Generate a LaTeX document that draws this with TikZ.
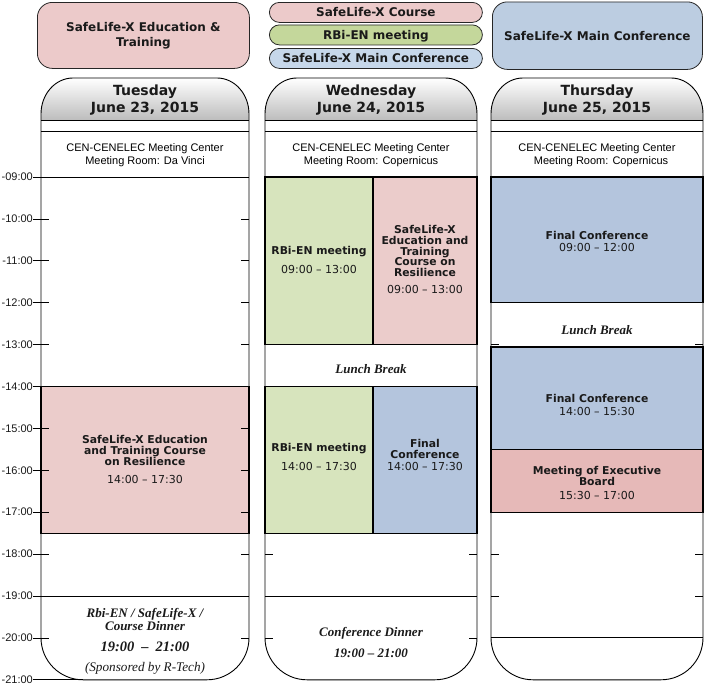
\documentclass[tikz,border=0pt]{standalone}
\usepackage{fontspec}
\setmainfont{DejaVu Sans}
\newfontfamily\arialfont{Liberation Sans}
\newfontfamily\timesfont{Liberation Serif}
\definecolor{legpink}{HTML}{ECCACA}
\definecolor{leggreen}{HTML}{C4D79B}
\definecolor{legblue}{HTML}{C6D7EA}
\definecolor{bigblue}{HTML}{BCCDE1}
\definecolor{evpink}{HTML}{EBCCCB}
\definecolor{evgreen}{HTML}{D7E4BD}
\definecolor{evblue}{HTML}{B4C5DD}
\definecolor{execpink}{HTML}{E6B9B8}
\definecolor{ink}{HTML}{1A1A1A}
\newcommand\mycolhead[2]{%
  \shade[top color=white, bottom color=black!26] ({#1},120) -- ({#1},114) .. controls ({#1},94.1) and ({#1+14.3},78) .. ({#1+32},78) -- ({#2-32},78) .. controls ({#2-14.3},78) and ({#2},94.1) .. ({#2},114) -- ({#2},120) -- cycle;}
\newcommand\mycolout[2]{%
  \draw[outl] ({#1},114) .. controls ({#1},94.1) and ({#1+14.3},78) .. ({#1+32},78) -- ({#2-32},78) .. controls ({#2-14.3},78) and ({#2},94.1) .. ({#2},114) -- ({#2},637.8) .. controls ({#2},661) and ({#2-18.8},679.8) .. ({#2-42},679.8) -- ({#1+42},679.8) .. controls ({#1+18.8},679.8) and ({#1},661) .. ({#1},637.8) -- cycle;}
\newcommand\myticks[3]{%
  \foreach \h in {#3} {\pgfmathsetmacro\yy{177+(\h-9)*41.9}
    \draw[tk] ({#1},\yy) -- ({#1+8},\yy); \draw[tk] ({#2-8},\yy) -- ({#2},\yy);}}
\begin{document}
\begin{tikzpicture}[x=1pt,y=-1pt,
  outl/.style={draw=black, line width=0.9pt},
  gl/.style={draw=black, line width=0.9pt},
  thinl/.style={draw=black, line width=0.5pt},
  tk/.style={draw=black, line width=0.8pt},
  evbox/.style={draw=black, line width=1.3pt, inner sep=0pt, outer sep=0pt, anchor=north west},
  legbox/.style={draw=black!85, line width=0.8pt, inner sep=0pt, align=center, text=ink,
    font=\bfseries\fontsize{12}{15}\selectfont, text height=9pt, text depth=0pt},
  hdr/.style={font=\bfseries\fontsize{14}{17}\selectfont, text=ink, inner sep=0pt, anchor=base},
  loc/.style={font=\arialfont\fontsize{11}{12.5}\selectfont, inner sep=0pt, anchor=base},
  ttl/.style={font=\bfseries\fontsize{10.8}{10.6}\selectfont, align=center, inner sep=0pt, text=ink},
  tim/.style={font=\fontsize{11}{12}\selectfont, inner sep=0pt, text=ink, anchor=base},
  din/.style={font=\timesfont\bfseries\itshape\fontsize{13}{14}\selectfont, inner sep=0pt, text=ink, anchor=base},
  spon/.style={font=\timesfont\itshape\fontsize{13.2}{14}\selectfont, inner sep=0pt, text=ink, anchor=base},
  tlabel/.style={font=\arialfont\fontsize{11}{12}\selectfont, inner sep=0pt, anchor=east, text=ink}
]
\useasboundingbox[fill=white] (0,0) rectangle (705,688);

% legend
\node[legbox, fill=legpink, rounded corners=15pt, minimum width=212pt, minimum height=66pt, anchor=north west, text height=, text depth=] (legEdu) at (37,2) {SafeLife-X Education \&\\Training};
\node[legbox, fill=legpink, rounded corners=10pt, minimum width=213pt, minimum height=20pt, anchor=north west] (legCourse) at (269,2) {SafeLife-X Course};
\node[legbox, fill=leggreen, rounded corners=10pt, minimum width=213pt, minimum height=20pt, anchor=north west] (legRbi) at (269,24.5) {RBi-EN meeting};
\node[legbox, fill=legblue, rounded corners=10pt, minimum width=213pt, minimum height=20pt, anchor=north west] (legMain) at (269,48) {SafeLife-X Main Conference};
\node[legbox, fill=bigblue, rounded corners=15pt, minimum width=210pt, minimum height=67.5pt, anchor=north west] (legConf) at (492,1.5) {SafeLife-X Main Conference};

% column heads
\mycolhead{41}{249}
\mycolhead{265}{477}
\mycolhead{491}{703}

% Tuesday
\draw[thinl] (41,120) -- (249,120);
\draw[gl] (41,131) -- (249,131);
\draw[gl] (41,177) -- (249,177);
\node[evbox, fill=evpink, minimum width=208pt, minimum height=146.65pt] (tueCourse) at (41,386.5) {};
\draw[gl] (41,596) -- (249,596);
\myticks{41}{249}{10,11,12,13,15,16,17,18,20}

% Wednesday
\draw[thinl] (265,120) -- (477,120);
\draw[gl] (265,131) -- (477,131);
\draw[gl] (265,177) -- (477,177);
\myticks{265}{477}{18,20}
\node[evbox, fill=evgreen, minimum width=108pt, minimum height=167.6pt] (wedRbiA) at (265,177) {};
\node[evbox, fill=evpink, minimum width=104pt, minimum height=167.6pt] (wedCourse) at (373,177) {};
\node[evbox, fill=evgreen, minimum width=108pt, minimum height=146.65pt] (wedRbiB) at (265,386.5) {};
\node[evbox, fill=evblue, minimum width=104pt, minimum height=146.65pt] (wedConf) at (373,386.5) {};
\draw[gl] (265,596) -- (477,596);

% Thursday
\draw[thinl] (491,120) -- (703,120);
\draw[gl] (491,131) -- (703,131);
\draw[gl] (491,177) -- (703,177);
\myticks{491}{703}{13,18,19}
\node[evbox, fill=evblue, minimum width=212pt, minimum height=125.7pt] (thuConfA) at (491,177) {};
\node[evbox, fill=evblue, minimum width=212pt, minimum height=102.35pt] (thuConfB) at (491,347) {};
\node[evbox, fill=execpink, minimum width=212pt, minimum height=62.85pt] (thuExec) at (491,449.35) {};
\draw[gl] (491,637.9) -- (703,637.9);

% outlines
\mycolout{41}{249}
\mycolout{265}{477}
\mycolout{491}{703}

% headers
\node[hdr] (tueDay) at (145,95.5) {Tuesday};
\node[hdr] (tueDate) at (145,112) {June 23, 2015};
\node[hdr] (wedDay) at (371,95.5) {Wednesday};
\node[hdr] (wedDate) at (371,112) {June 24, 2015};
\node[hdr] (thuDay) at (597,95.5) {Thursday};
\node[hdr] (thuDate) at (597,112) {June 25, 2015};

% locations
\node[loc] (tueLoc1) at (145,151.5) {CEN-CENELEC Meeting Center};
\node[loc] (tueLoc2) at (145,164.5) {Meeting Room: Da Vinci};
\node[loc] (wedLoc1) at (371,151.5) {CEN-CENELEC Meeting Center};
\node[loc] (wedLoc2) at (371,164.5) {Meeting Room: Copernicus};
\node[loc] (thuLoc1) at (597,151.5) {CEN-CENELEC Meeting Center};
\node[loc] (thuLoc2) at (601,164.5) {Meeting Room: Copernicus};

% Tuesday texts
\node[ttl] (tueCourseT) at (145,450.5) {SafeLife-X Education\\and Training Course\\on Resilience};
\node[tim] (tueCourseD) at (145,483.5) {14:00 – 17:30};
\node[din] (tueDin1) at (145,617) {Rbi-EN / SafeLife-X /};
\node[din] (tueDin2) at (145,630) {Course Dinner};
\node[din, font=\timesfont\bfseries\itshape\fontsize{14.5}{15}\selectfont] (tueDin3) at (145,651.2) {19:00\hspace{7pt}–\hspace{7pt}21:00};
\node[spon] (tueDin4) at (145,671) {(Sponsored by R-Tech)};

% Wednesday texts
\node[ttl, anchor=base] (wedRbiAT) at (319,254.6) {RBi-EN meeting};
\node[tim] (wedRbiAD) at (319,273.3) {09:00 – 13:00};
\node[ttl] (wedCourseT) at (425,251) {SafeLife-X\\Education and\\Training\\Course on\\Resilience};
\node[tim] (wedCourseD) at (425,293) {09:00 – 13:00};
\node[din] (wedLunch) at (371,373) {Lunch Break};
\node[ttl, anchor=base] (wedRbiBT) at (319,451.9) {RBi-EN meeting};
\node[tim] (wedRbiBD) at (319,470.7) {14:00 – 17:30};
\node[ttl] (wedConfT) at (425,449) {Final\\Conference};
\node[tim] (wedConfD) at (425,470.7) {14:00 – 17:30};
\node[din] (wedDin1) at (371,636) {Conference Dinner};
\node[din] (wedDin2) at (371,657) {19:00 – 21:00};

% Thursday texts
\node[ttl, anchor=base] (thuConfAT) at (597,239) {Final Conference};
\node[tim] (thuConfAD) at (597,251.7) {09:00 – 12:00};
\node[din] (thuLunch) at (597,334) {Lunch Break};
\node[ttl, anchor=base] (thuConfBT) at (597,402.3) {Final Conference};
\node[tim] (thuConfBD) at (597,415) {14:00 – 15:30};
\node[ttl] (thuExecT) at (597,476) {Meeting of Executive\\Board};
\node[tim] (thuExecD) at (597,499.3) {15:30 – 17:00};

% time labels
\foreach \h/\t in {9/09:00,10/10:00,11/11:00,12/12:00,13/13:00,14/14:00,15/15:00,16/16:00,17/17:00,18/18:00,19/19:00,20/20:00} {
  \pgfmathsetmacro\yy{177+(\h-9)*41.9}
  \node[tlabel] (lab\h) at (33,\yy) {-\t};
  \draw[tk] (lab\h.east) -- (41,\yy);
}
\node[tlabel] (lab21) at (33,679.8) {-21:00};
\coordinate (end21) at (83,679.8);
\draw[tk] (lab21.east) -- (end21);
\end{tikzpicture}
\end{document}
